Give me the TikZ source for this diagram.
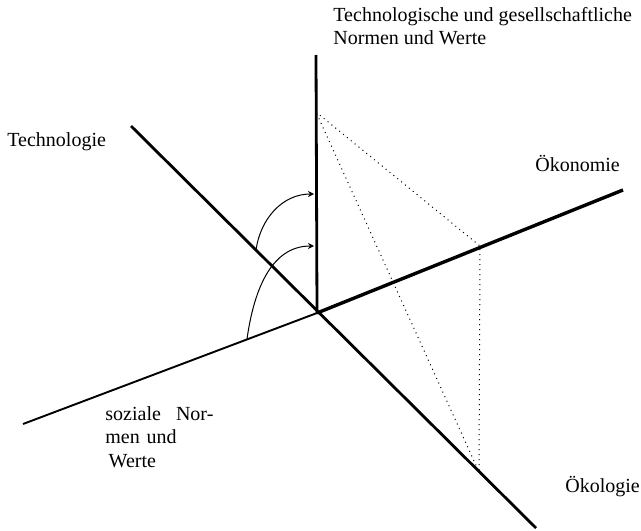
\documentclass[tikz,border=0pt]{standalone}
\usepackage{fontspec}
\setmainfont{Liberation Serif}
\usepackage{tikz}
\usetikzlibrary{arrows.meta}

\begin{document}
\begin{tikzpicture}[
    x=0.5pt, y=-0.5pt,
    axis/.style={line width=1.4pt},
    thinaxis/.style={line width=0.95pt},
    proj/.style={dotted, line width=0.5pt},
    turn/.style={line width=0.5pt, -{Stealth[length=3pt, width=3pt]}},
    lbl/.style={font=\fontsize{10pt}{11.7pt}\selectfont, inner sep=0pt, align=left},
]
\useasboundingbox (0,0) rectangle (641,530);

% axes
\coordinate (origin) at (317,313);
\coordinate (top) at (316,55);
\coordinate (techend) at (131,126);
\coordinate (oekolend) at (536,528);
\coordinate (sozend) at (23,424);
\coordinate (oekonend) at (623,190);

\draw[axis] (origin) -- (top);
\draw[axis] (techend) -- (oekolend);
\draw[thinaxis] (sozend) -- (origin);
\draw[line width=1.7pt] (origin) -- (oekonend);

% projection
\coordinate (pn) at (316,112);
\coordinate (pe) at (480,246);
\coordinate (pk) at (479,472);
\draw[proj] (pn) -- (pe) -- (pk) -- (pn);

% rotations
\coordinate (a1) at (256,250);
\coordinate (b1) at (314,194);
\coordinate (a2) at (247,339);
\coordinate (b2) at (314,246);
\draw[turn] (a1) to[out=82, in=180] (b1);
\draw[turn] (a2) to[out=82, in=180] (b2);

% labels
\node[lbl, anchor=north west] (norm) at (333,7) {Technologische und gesellschaftliche\\Normen und Werte};
\node[lbl, anchor=west] (tech) at (7,142) {Technologie};
\node[lbl, anchor=west] (oekon) at (535,163) {Ökonomie};
\node[lbl, anchor=west] (oekol) at (565,487) {Ökologie};
\node[lbl, anchor=north west, text width=54pt] (soz) at (105,406) {soziale\hfill Nor-\\men und\\\,Werte};
\end{tikzpicture}
\end{document}
